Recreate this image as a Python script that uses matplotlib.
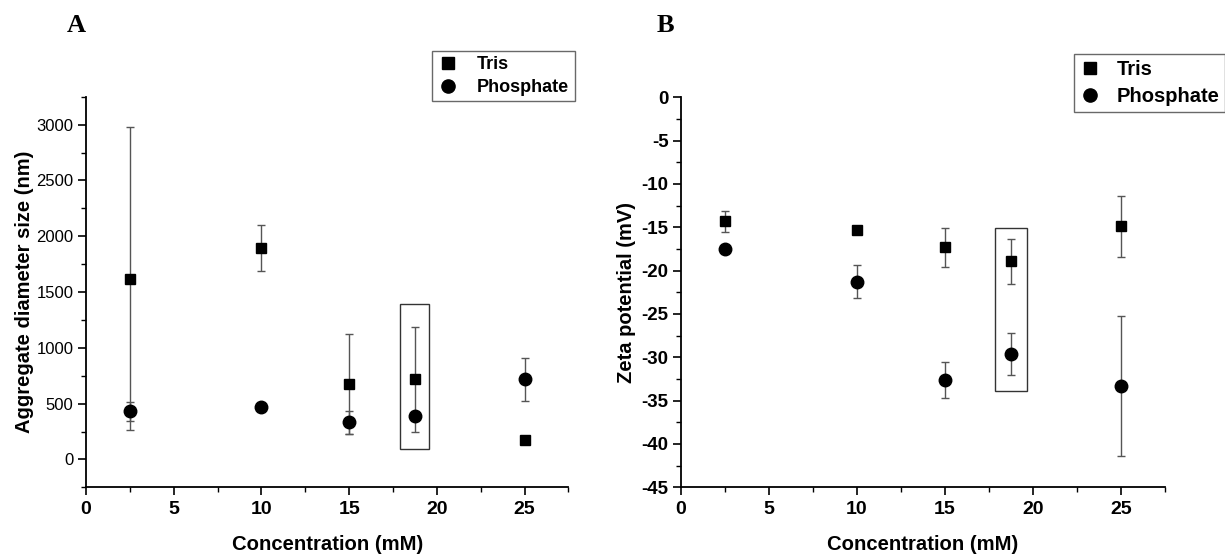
import matplotlib
matplotlib.use("Agg")
import matplotlib.pyplot as plt
from matplotlib.lines import Line2D
from matplotlib.patches import Rectangle
from matplotlib.ticker import MultipleLocator

plt.rcParams['font.family'] = ['Liberation Sans', 'DejaVu Sans']
plt.rcParams['axes.unicode_minus'] = False

# ---- data ----
concentration = [2.5, 10, 15, 18.75, 25]

size_tris = [1620, 1895, 676, 716, 175]
size_tris_err = [1360, 205, 445, 468, 0]
size_phos = [430, 470, 333, 387, 716]
size_phos_err = [85, 0, 105, 0, 190]

zeta_tris = [-14.3, -15.3, -17.3, -18.9, -14.9]
zeta_tris_err = [1.2, 0, 2.25, 2.6, 3.5]
zeta_phos = [-17.5, -21.3, -32.65, -29.6, -33.3]
zeta_phos_err = [0.4, 1.9, 2.1, 2.4, 8.1]

series_names = ["Tris", "Phosphate"]
panel_labels = ["A", "B"]
xlabel = "Concentration (mM)"
ylabel_a = "Aggregate diameter size (nm)"
ylabel_b = "Zeta potential (mV)"

W, H = 1225, 554
fig = plt.figure(figsize=(W / 100, H / 100), dpi=100)

def px_axes(left, top, right, bottom):
    return fig.add_axes([left / W, 1 - bottom / H, (right - left) / W, (bottom - top) / H])

axA = px_axes(86, 96.7, 568.4, 487.3)
axB = px_axes(681, 97.3, 1165, 487.3)

ecol = '#555555'

def draw(ax, y1, e1, y2, e2):
    ax.errorbar(concentration, y1, yerr=e1, fmt='none', ecolor=ecol,
                elinewidth=1.0, capsize=3.2, capthick=1.0, zorder=2)
    ax.errorbar(concentration, y2, yerr=e2, fmt='none', ecolor=ecol,
                elinewidth=1.0, capsize=3.2, capthick=1.0, zorder=2)
    ax.plot(concentration, y1, linestyle='none', marker='s', markersize=7.9,
            color='black', zorder=3)
    ax.plot(concentration, y2, linestyle='none', marker='o', markersize=9,
            color='black', zorder=3)

draw(axA, size_tris, size_tris_err, size_phos, size_phos_err)
draw(axB, zeta_tris, zeta_tris_err, zeta_phos, zeta_phos_err)

for ax in (axA, axB):
    ax.set_xlim(0, 27.5)
    for s in ('top', 'right'):
        ax.spines[s].set_visible(False)
    for s in ('left', 'bottom'):
        ax.spines[s].set_linewidth(1.3)
    ax.xaxis.set_major_locator(MultipleLocator(5))
    ax.xaxis.set_minor_locator(MultipleLocator(2.5))
    ax.tick_params(which='major', direction='out', length=6, width=1.2)
    ax.tick_params(which='minor', direction='out', length=3.5, width=1.0)
    ax.tick_params(axis='x', labelsize=14, pad=4)
    for lab in ax.get_xticklabels():
        lab.set_fontweight('bold')
    ax.set_xlabel(xlabel, fontsize=14.6, fontweight='bold', labelpad=12)

axA.set_ylim(-250, 3250)
axA.yaxis.set_major_locator(MultipleLocator(500))
axA.yaxis.set_minor_locator(MultipleLocator(250))
axA.tick_params(axis='y', labelsize=12, pad=3)
axA.set_ylabel(ylabel_a, fontsize=14.5, fontweight='bold', labelpad=2)

axB.set_ylim(-45, 0)
axB.yaxis.set_major_locator(MultipleLocator(5))
axB.yaxis.set_minor_locator(MultipleLocator(2.5))
axB.tick_params(axis='y', labelsize=13.5, pad=3)
for lab in axB.get_yticklabels():
    lab.set_fontweight('bold')
axB.set_ylabel(ylabel_b, fontsize=14.5, fontweight='bold', labelpad=4)

# highlight boxes
axA.add_patch(Rectangle((17.9, 95), 1.65, 1300, fill=False, edgecolor='#333333',
                        linewidth=1.0, zorder=1))
axB.add_patch(Rectangle((17.85, -33.9), 1.82, 18.83, fill=False, edgecolor='#333333',
                        linewidth=1.0, zorder=1))

# legends
handles = [Line2D([], [], linestyle='none', marker='s', markersize=8, color='black'),
           Line2D([], [], linestyle='none', marker='o', markersize=9.5, color='black')]

legA = fig.legend(handles, series_names, loc='upper left',
                  bbox_to_anchor=(432 / W, 1 - 51 / H), borderaxespad=0,
                  frameon=True, fancybox=False, edgecolor='#444444',
                  prop={'weight': 'bold', 'size': 13}, handlelength=1.2,
                  handletextpad=1.0, borderpad=0.3, labelspacing=0.3)
legA.get_frame().set_linewidth(1.0)

legB = fig.legend(handles, series_names, loc='upper left',
                  bbox_to_anchor=(1074 / W, 1 - 54.3 / H), borderaxespad=0,
                  frameon=True, fancybox=False, edgecolor='#444444',
                  prop={'weight': 'bold', 'size': 14.5}, handlelength=1.0,
                  handletextpad=0.8, borderpad=0.3, labelspacing=0.38)
legB.get_frame().set_linewidth(1.0)

# panel labels
fig.text(76 / W, 1 - 26 / H, panel_labels[0], fontsize=19, fontweight='bold',
         family=['Liberation Serif', 'DejaVu Serif'], ha='center', va='center')
fig.text(665 / W, 1 - 26 / H, panel_labels[1], fontsize=19, fontweight='bold',
         family=['Liberation Serif', 'DejaVu Serif'], ha='center', va='center')

fig.savefig("out.png", dpi=100)
